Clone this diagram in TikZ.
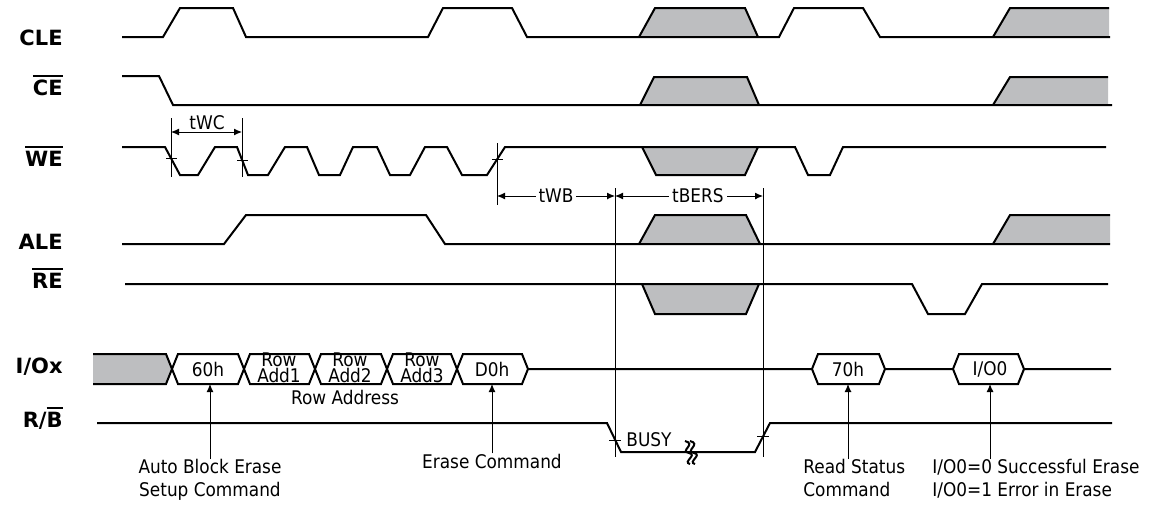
\documentclass[tikz,border=0pt]{standalone}
\usepackage{fontspec}
\setmainfont{DejaVu Sans Condensed}
\newfontfamily\sigfont{DejaVu Sans}
\usetikzlibrary{arrows.meta}
\definecolor{sgray}{RGB}{189,190,192}
\newcommand{\ovl}[1]{\sbox0{#1}\rlap{\rule[\dimexpr\ht0+1.2pt\relax]{\wd0}{1.1pt}}\usebox0}

\begin{document}
\begin{tikzpicture}[x=0.5pt, y=-0.5pt, >={Latex[length=4pt,width=3.5pt]},
  sig/.style = {line width=1pt},
  dim/.style = {line width=0.5pt},
  txt/.style = {inner sep=0pt, font=\fontsize{9.4}{11.5}\selectfont},
  cell/.style = {inner sep=0pt, align=center, font=\fontsize{9.4}{8}\selectfont},
  lbl/.style = {inner sep=0pt, anchor=base east, font=\sigfont\bfseries\fontsize{10.5}{12}\selectfont}]

\useasboundingbox (0,0) rectangle (1149,504);

\node[lbl] (cle) at (63,45) {CLE};
\node[lbl] (ce) at (63,95) {\ovl{CE}};
\node[lbl] (we) at (63,166) {\ovl{WE}};
\node[lbl] (ale) at (63,249) {ALE};
\node[lbl] (re) at (63,288) {\ovl{RE}};
\node[lbl] (io) at (63,373) {I/Ox};
\node[lbl] (rb) at (63,427) {R/\ovl{B}};

\filldraw[sig, fill=sgray] (639,37) -- (655,8) -- (745,8) -- (758,37);
\fill[sgray] (993,37) -- (1010,8) -- (1109,8) -- (1109,37) -- cycle;
\draw[sig] (993,37) -- (1010,8) -- (1109,8);
\draw[sig] (122,37) -- (163,37) -- (180,8) -- (233,8) -- (246,37) -- (428,37) -- (443,8) -- (512,8) -- (527,37)
  -- (779,37) -- (794,8) -- (863,8) -- (880,37) -- (1110,37);

\filldraw[sig, fill=sgray] (640,105) -- (654,77) -- (747,77) -- (759,105);
\fill[sgray] (993,105) -- (1010,77) -- (1108,77) -- (1108,105) -- cycle;
\draw[sig] (993,105) -- (1010,77) -- (1108,77);
\draw[sig] (122,76) -- (159,76) -- (173,105) -- (1112,105);

\filldraw[sig, fill=sgray] (642,147) -- (656,175) -- (745,175) -- (758,147);
\draw[sig] (122,147) -- (165,147) -- (180,175) -- (198,175) -- (215,147) -- (237,147) -- (248,175) -- (268,175)
  -- (285,147) -- (307,147) -- (319,175) -- (340,175) -- (353,147) -- (377,147) -- (390,175) -- (410,175)
  -- (425,147) -- (447,147) -- (462,175) -- (487,175) -- (505,147) -- (795,147) -- (808,175) -- (830,175)
  -- (843,147) -- (1106,147);

\filldraw[sig, fill=sgray] (639,244) -- (655,215) -- (746,215) -- (760,244);
\fill[sgray] (993,244) -- (1010,215) -- (1110,215) -- (1110,244) -- cycle;
\draw[sig] (993,244) -- (1010,215) -- (1110,215);
\draw[sig] (122,244) -- (224,244) -- (246,215) -- (426,215) -- (445,244) -- (1110,244);

\filldraw[sig, fill=sgray] (642,284) -- (655,314) -- (746,314) -- (759,284);
\draw[sig] (125,284) -- (912,284) -- (928,314) -- (965,314) -- (982,284) -- (1108,284);

\fill[sgray] (93,354) -- (166,354) -- (172,369) -- (166,384) -- (93,384) -- cycle;
\draw[sig] (93,354) -- (166,354) -- (178,384) -- (238,384) -- (250,354) -- (309,354) -- (321,384) -- (381,384)
  -- (393,354) -- (451,354) -- (463,384) -- (522,384) -- (528,369) -- (812,369) -- (818,384) -- (879,384)
  -- (885,369) -- (953,369) -- (959,384) -- (1018,384) -- (1024,369) -- (1111,369);
\draw[sig] (93,384) -- (166,384) -- (178,354) -- (238,354) -- (250,384) -- (309,384) -- (321,354) -- (381,354)
  -- (393,384) -- (451,384) -- (463,354) -- (522,354) -- (528,369);
\draw[sig] (812,369) -- (818,354) -- (879,354) -- (885,369);
\draw[sig] (953,369) -- (959,354) -- (1018,354) -- (1024,369);

\node[cell] (c60) at (208,369) {60h};
\node[cell] (c1) at (279,368) {Row\\Add1};
\node[cell] (c2) at (350,368) {Row\\Add2};
\node[cell] (c3) at (422,368) {Row\\Add3};
\node[cell] (cd0) at (492,369) {D0h};
\node[cell] (c70) at (848,369) {70h};
\node[cell] (cio) at (990,369) {I/O0};
\node[txt] (radd) at (345,397) {Row Address};

\draw[sig] (97,423) -- (607,423) -- (621,452) -- (755,452) -- (770,423) -- (1112,423);
\node[txt, anchor=base west] (busy) at (626,446) {BUSY};
\draw[line width=1pt] (685,441) .. controls (697,444) and (679,451) .. (689,453) .. controls (698,455) and (682,462) .. (690,464);
\draw[line width=1pt] (690,441) .. controls (702,444) and (684,451) .. (694,453) .. controls (703,455) and (687,462) .. (695,464);

\draw[dim] (171,118) -- (171,177);
\draw[dim] (242,118) -- (242,177);
\draw[dim] (497,143) -- (497,205);
\draw[dim] (615,188) -- (615,457);
\draw[dim] (763,188) -- (763,457);
\draw[dim] (166,158) -- (177,158);
\draw[dim] (237,160) -- (248,160);
\draw[dim] (492,159) -- (503,159);
\draw[dim] (609,440) -- (621,440);
\draw[dim] (757,436) -- (769,436);

\coordinate (a1) at (171,132);
\coordinate (a2) at (242,132);
\draw[dim,<->] (a1) -- (a2);
\node[txt, anchor=base] (twc) at (207,129) {tWC};
\coordinate (b1) at (497,196);
\coordinate (b2) at (615,196);
\coordinate (b3) at (763,196);
\draw[dim,<->] (b1) -- node[txt, fill=white, inner xsep=1.5pt] (twb) {tWB} (b2);
\draw[dim,<->] (b2) -- node[txt, fill=white, inner xsep=1.5pt, pos=0.56] (tbers) {tBERS} (b3);

\coordinate (p60) at (210,384);
\coordinate (pd0) at (492,384);
\coordinate (p70) at (848,384);
\coordinate (pio) at (990,384);
\node[txt, align=center, anchor=north] (setup) at (210,459) {Auto Block Erase\\Setup Command};
\node[txt, anchor=base] (erase) at (492,468) {Erase Command};
\node[txt, align=left, anchor=north west] (rstat) at (803,459) {Read Status\\Command};
\node[txt, align=left, anchor=north west] (res) at (932,459) {I/O0=0 Successful Erase\\I/O0=1 Error in Erase};
\draw[dim,->] (setup.north) -- (p60);
\draw[dim,->] (erase.north) -- (pd0);
\draw[dim,->] (rstat.north -| p70) -- (p70);
\draw[dim,->] (res.north -| pio) -- (pio);
\end{tikzpicture}
\end{document}
